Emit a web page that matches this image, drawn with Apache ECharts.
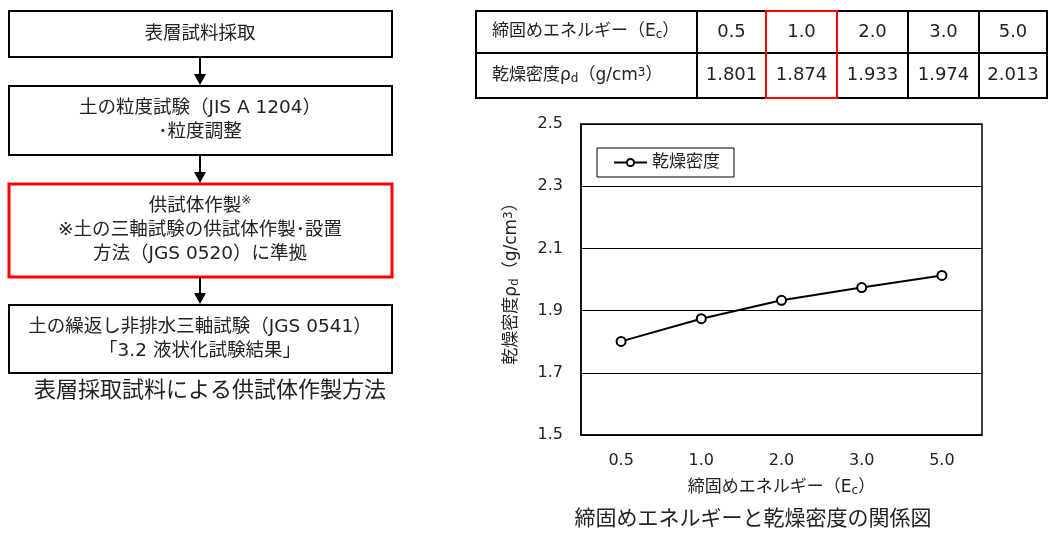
<!DOCTYPE html>
<html>
<head>
<meta charset="utf-8">
<script src="https://cdn.jsdelivr.net/npm/echarts@6/dist/echarts.min.js"></script>
<style>
  html, body { margin: 0; padding: 0; background: #fff; }
  #main { width: 1049px; height: 533px; }
</style>
</head>
<body>
<div id="main"></div>
<script>
// データ
const energyLabels = ['0.5', '1.0', '2.0', '3.0', '5.0'];
const dryDensity = [1.801, 1.874, 1.933, 1.974, 2.013];
const densityText = ['1.801', '1.874', '1.933', '1.974', '2.013'];
const highlightCol = 1; // 1.0 の列を赤枠

// フロー図の各ステップ
const flowSteps = [
  ['表層試料採取'],
  ['土の粒度試験（JIS A 1204）', '･粒度調整'],
  ['供試体作製{sm|※}', '※土の三軸試験の供試体作製･設置', '方法（JGS 0520）に準拠'],
  ['土の繰返し非排水三軸試験（JGS 0541）', '「3.2 液状化試験結果」']
];
const flowCaption = '表層採取試料による供試体作製方法';
const chartCaption = '締固めエネルギーと乾燥密度の関係図';

const FONT = '"DejaVu Sans", "Noto Sans CJK JP", sans-serif';
const chart = echarts.init(document.getElementById('main'));

// フロー図
const boxes = [[11, 46], [86, 69], [184, 93], [305, 68]];
const graphic = [];
boxes.forEach(([y, h], i) => {
  const red = i === 2;
  graphic.push({
    type: 'rect',
    shape: { x: 9, y: y, width: 383, height: h },
    style: { fill: '#fff', stroke: red ? '#ff0000' : '#000', lineWidth: red ? 3 : 2 }
  });
  graphic.push({
    type: 'text',
    style: {
      text: flowSteps[i].join('\n'),
      x: 200, y: y + h / 2,
      align: 'center', verticalAlign: 'middle',
      font: '18.5px ' + FONT, fill: '#222', lineHeight: 24,
      rich: { sm: { fontSize: 12, verticalAlign: 'top', fontFamily: FONT, fill: '#222' } }
    }
  });
  //矢印
  if (i < boxes.length - 1) {
    const y0 = y + h, y1 = boxes[i + 1][0];
    graphic.push({
      type: 'line', shape: { x1: 200, y1: y0, x2: 200, y2: y1 - 10 },
      style: { stroke: '#000', lineWidth: 2 }
    });
    graphic.push({
      type: 'polygon', shape: { points: [[194, y1 - 12], [206, y1 - 12], [200, y1 - 1]] },
      style: { fill: '#000' }
    });
  }
});
graphic.push({
  type: 'text',
  style: { text: flowCaption, x: 210, y: 391, align: 'center', verticalAlign: 'middle',
    font: '22px ' + FONT, fill: '#222' }
});

// 表
const colX = [476, 697, 766, 837, 908, 979, 1047];
const rowY = [11, 53, 98];
const headTexts = ['締固めエネルギー（E{sub|c}）', '乾燥密度ρ{sub|d}（g/cm{sup|3}）'];
const tableRich = {
  sub: { fontSize: 12, verticalAlign: 'bottom', fontFamily: FONT, fill: '#222', padding: [6, 0, 0, 0] },
  sup: { fontSize: 12, verticalAlign: 'top', fontFamily: FONT, fill: '#222' }
};
for (let r = 0; r < 2; r++) {
  for (let c = 0; c < 6; c++) {
    graphic.push({
      type: 'rect',
      shape: { x: colX[c], y: rowY[r], width: colX[c + 1] - colX[c], height: rowY[r + 1] - rowY[r] },
      style: { fill: 'none', stroke: '#000', lineWidth: 2 }
    });
    const txt = c === 0 ? headTexts[r] : (r === 0 ? energyLabels[c - 1] : densityText[c - 1]);
    graphic.push({
      type: 'text',
      style: {
        text: txt,
        x: c === 0 ? colX[0] + 16 : (colX[c] + colX[c + 1]) / 2,
        y: (rowY[r] + rowY[r + 1]) / 2,
        align: c === 0 ? 'left' : 'center', verticalAlign: 'middle',
        font: (c === 0 ? '17px ' : '18px ') + FONT, fill: '#222', rich: tableRich
      }
    });
  }
}
graphic.push({
  type: 'rect',
  shape: { x: colX[highlightCol + 1], y: rowY[0], width: colX[highlightCol + 2] - colX[highlightCol + 1], height: rowY[2] - rowY[0] },
  style: { fill: 'none', stroke: '#ff0000', lineWidth: 2 }
});
graphic.push({
  type: 'text',
  style: { text: chartCaption, x: 753, y: 520, align: 'center', verticalAlign: 'middle',
    font: '21px ' + FONT, fill: '#222' }
});

chart.setOption({
  animation: false,
  textStyle: { fontFamily: FONT },
  grid: { left: 581, top: 124, width: 401, height: 311, show: true, borderColor: '#000', borderWidth: 1.5, backgroundColor: 'transparent' },
  legend: {
    left: 597, top: 148, orient: 'horizontal',
    itemWidth: 33, itemHeight: 9, itemGap: 4,
    borderColor: '#000', borderWidth: 1, borderRadius: 0,
    padding: [6, 14, 6, 16], backgroundColor: '#fff',
    textStyle: { fontSize: 17, color: '#222', fontFamily: FONT }
  },
  xAxis: {
    type: 'category', data: energyLabels, boundaryGap: true,
    axisLine: { lineStyle: { color: '#000', width: 1.5 } },
    axisTick: { show: false },
    axisLabel: { fontSize: 16, color: '#222', margin: 18 },
    name: '締固めエネルギー（E{sub|c}）', nameLocation: 'middle', nameGap: 44,
    nameTextStyle: { fontSize: 17, color: '#222', rich: tableRich }
  },
  yAxis: {
    type: 'value', min: 1.5, max: 2.5, interval: 0.2,
    axisLine: { show: true, lineStyle: { color: '#000', width: 1.5 } },
    axisTick: { show: false },
    splitLine: { lineStyle: { color: '#000', width: 1 } },
    axisLabel: { fontSize: 16, color: '#222', margin: 18, formatter: v => v.toFixed(1) },
    name: '乾燥密度ρ{sub|d}（g/cm{sup|3}）', nameLocation: 'middle', nameGap: 60,
    nameTextStyle: { fontSize: 17, color: '#222', rich: tableRich }
  },
  series: [{
    name: '乾燥密度', type: 'line', data: dryDensity,
    symbol: 'emptyCircle', symbolSize: 9,
    itemStyle: { color: '#000', borderColor: '#000', borderWidth: 1.5 },
    lineStyle: { color: '#000', width: 2 }
  }],
  graphic: graphic
});
</script>
</body>
</html>
